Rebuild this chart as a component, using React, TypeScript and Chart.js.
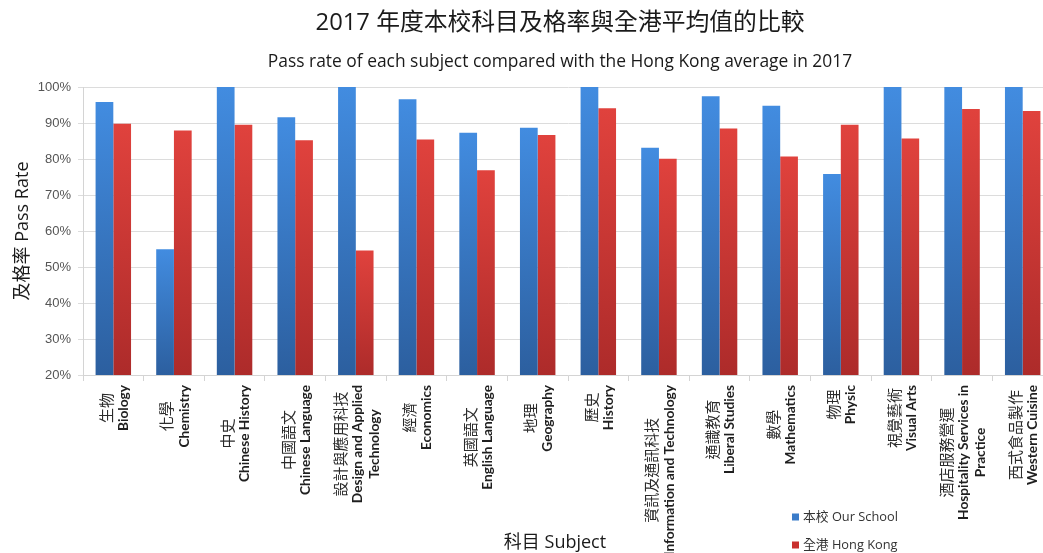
import React, { useEffect, useRef } from "react";
import { Chart, registerables } from "chart.js";

Chart.register(...registerables);

const titleZh = "2017 年度本校科目及格率與全港平均值的比較";
const titleEn = "Pass rate of each subject compared with the Hong Kong average in 2017";
const yAxisTitle = "及格率 Pass Rate";
const xAxisTitle = "科目 Subject";

const subjectsZh = [
  "生物", "化學", "中史", "中國語文", "設計與應用科技", "經濟", "英國語文", "地理",
  "歷史", "資訊及通訊科技", "通識教育", "數學", "物理", "視覺藝術", "酒店服務營運", "西式食品製作",
];
const subjectsEn = [
  ["Biology"], ["Chemistry"], ["Chinese History"], ["Chinese Language"],
  ["Design and Applied", "Technology"], ["Economics"], ["English Language"], ["Geography"],
  ["History"], ["Information and Technology"], ["Liberal Studies"], ["Mathematics"],
  ["Physic"], ["Visual Arts"], ["Hospitality Services in", "Practice"], ["Western Cuisine"],
];

const seriesLabels = ["本校 Our School", "全港 Hong Kong"];
const ourSchool = [95.8, 54.9, 100, 91.6, 100, 96.6, 87.3, 88.7, 100, 83.1, 97.4, 94.8, 75.8, 100, 100, 100];
const hongKong = [89.8, 87.9, 89.5, 85.2, 54.6, 85.4, 76.9, 86.7, 94.1, 80.1, 88.5, 80.7, 89.5, 85.7, 93.9, 93.3];

const yMin = 20;
const yMax = 100;
const yStep = 10;

const BLUE_TOP = "#428ce0";
const BLUE_BOTTOM = "#2c5f9f";
const RED_TOP = "#e0423d";
const RED_BOTTOM = "#ad2b2a";
const BLUE_KEY = "#3b7cc9";
const RED_KEY = "#c9302d";

function barGradient(top: string, bottom: string, fallback: string) {
  return (ctx: any) => {
    const chart = ctx.chart;
    const area = chart.chartArea;
    if (!area || ctx.type !== "data" || ctx.raw == null) return fallback;
    const y = chart.scales.y.getPixelForValue(ctx.raw);
    const g = chart.ctx.createLinearGradient(0, y, 0, area.bottom);
    g.addColorStop(0, top);
    g.addColorStop(1, bottom);
    return g;
  };
}

const CJK = '"Noto Sans CJK TC", "Noto Sans CJK SC", sans-serif';
const LATIN_CJK = '"Open Sans", "Noto Sans CJK TC", sans-serif';

const decorPlugin = {
  id: "decor",
  afterDraw(chart: any) {
    const ctx = chart.ctx;
    const xScale = chart.scales.x;
    const area = chart.chartArea;
    ctx.save();

    // Titles
    ctx.textAlign = "center";
    ctx.textBaseline = "middle";
    ctx.fillStyle = "#1a1a1a";
    ctx.font = `23.8px ${LATIN_CJK}`;
    ctx.fillText(titleZh, 560, 23);
    ctx.font = `17.4px ${LATIN_CJK}`;
    ctx.fillText(titleEn, 560, 62);

    // Category labels (rotated, two fonts)
    const zhFont = `15px ${CJK}`;
    const enFont = `bold 13.7px Lato, "Open Sans", sans-serif`;
    const labelTop = area.bottom + 10;
    const spacing = 17.5;
    for (let i = 0; i < subjectsZh.length; i++) {
      const lines = [subjectsZh[i], ...subjectsEn[i]];
      const fonts = lines.map((_, k) => (k === 0 ? zhFont : enFont));
      let maxW = 0;
      lines.forEach((ln, k) => {
        ctx.font = fonts[k];
        maxW = Math.max(maxW, ctx.measureText(ln).width);
      });
      const cx = xScale.getPixelForValue(i);
      const cy = labelTop + maxW / 2;
      const n = lines.length;
      lines.forEach((ln, k) => {
        const lx = cx + 1.5 + (k - (n - 1) / 2) * spacing;
        ctx.save();
        ctx.translate(lx, cy);
        ctx.rotate(-Math.PI / 2);
        ctx.font = fonts[k];
        ctx.fillStyle = k === 0 ? "#2b2b2b" : "#1f1f1f";
        ctx.textAlign = "center";
        ctx.textBaseline = "middle";
        ctx.fillText(ln, 0, 0);
        ctx.restore();
      });
    }

    // X axis title
    ctx.font = `18px ${LATIN_CJK}`;
    ctx.fillStyle = "#1a1a1a";
    ctx.textAlign = "center";
    ctx.textBaseline = "middle";
    ctx.fillText(xAxisTitle, 555, 543);

    // Legend
    const keys = [BLUE_KEY, RED_KEY];
    const legendY = [517, 545];
    chart.data.datasets.forEach((ds: any, k: number) => {
      ctx.fillStyle = keys[k];
      ctx.fillRect(792, legendY[k] - 3.5, 7, 7);
      ctx.fillStyle = "#333333";
      ctx.font = `12.8px ${LATIN_CJK}`;
      ctx.textAlign = "left";
      ctx.textBaseline = "middle";
      ctx.fillText(ds.label, 803, legendY[k]);
    });

    ctx.restore();
  },
};

export default function App() {
  const canvasRef = useRef<HTMLCanvasElement | null>(null);

  useEffect(() => {
    if (!canvasRef.current) return;
    const chart = new Chart(canvasRef.current, {
      type: "bar",
      data: {
        labels: subjectsZh,
        datasets: [
          {
            label: seriesLabels[0],
            data: ourSchool,
            backgroundColor: barGradient(BLUE_TOP, BLUE_BOTTOM, BLUE_KEY),
            borderWidth: 0,
            categoryPercentage: 0.585,
            barPercentage: 1,
          },
          {
            label: seriesLabels[1],
            data: hongKong,
            backgroundColor: barGradient(RED_TOP, RED_BOTTOM, RED_KEY),
            borderWidth: 0,
            categoryPercentage: 0.585,
            barPercentage: 1,
          },
        ],
      },
      options: {
        animation: false,
        responsive: true,
        maintainAspectRatio: false,
        layout: { padding: { top: 87, right: 7, bottom: 0, left: 0 } },
        plugins: {
          legend: { display: false },
          title: { display: false },
          tooltip: { enabled: false },
        },
        scales: {
          x: {
            offset: true,
            grid: {
              offset: true,
              drawOnChartArea: false,
              drawTicks: true,
              tickLength: 6,
              color: "#d4d4d4",
            },
            border: { color: "#d4d4d4" },
            ticks: { display: false },
            afterFit: (scale: any) => {
              scale.height = 178;
            },
          },
          y: {
            min: yMin,
            max: yMax,
            ticks: {
              stepSize: yStep,
              padding: 7,
              color: "#555555",
              font: { family: '"Liberation Sans", Arial, sans-serif', size: 13 },
              callback: (v: any) => `${v}%`,
            },
            grid: { color: "#dcdcdc", tickLength: 5 },
            border: { color: "#d4d4d4" },
            title: {
              display: true,
              text: yAxisTitle,
              color: "#1a1a1a",
              font: { family: LATIN_CJK, size: 18 },
              padding: { top: 12, bottom: 0 },
            },
            afterFit: (scale: any) => {
              scale.width = 83;
            },
          },
        },
      },
      plugins: [decorPlugin],
    });
    return () => chart.destroy();
  }, []);

  return (
    <div
      style={{
        position: "fixed",
        left: 0,
        top: 0,
        width: 1043,
        height: 553,
        overflow: "hidden",
        background: "#ffffff",
      }}
    >
      <div style={{ position: "relative", width: 1060, height: 553 }}>
        <canvas ref={canvasRef} />
      </div>
    </div>
  );
}
